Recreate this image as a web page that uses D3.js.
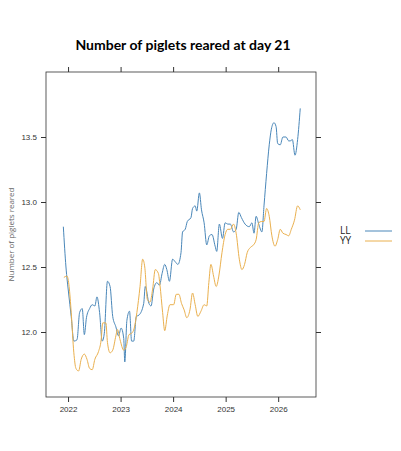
<!DOCTYPE html>
<html><head><meta charset="utf-8">
<script src="https://cdn.jsdelivr.net/npm/d3@7"></script>
<style>body{margin:0;background:#fff;font-family:"Open Sans",sans-serif}</style>
</head><body><div id="chart"></div>
<script>
const llYears = [2021.91,2021.96,2022.01,2022.06,2022.11,2022.17,2022.22,2022.27,2022.31,2022.35,2022.41,2022.46,2022.51,2022.55,2022.60,2022.65,2022.69,2022.75,2022.80,2022.85,2022.91,2022.96,2023.01,2023.06,2023.08,2023.12,2023.17,2023.21,2023.25,2023.30,2023.35,2023.44,2023.47,2023.54,2023.58,2023.63,2023.69,2023.74,2023.79,2023.84,2023.88,2023.93,2023.99,2024.04,2024.09,2024.15,2024.18,2024.23,2024.27,2024.34,2024.37,2024.42,2024.45,2024.50,2024.54,2024.59,2024.64,2024.69,2024.74,2024.80,2024.83,2024.88,2024.94,2024.99,2025.04,2025.09,2025.15,2025.20,2025.25,2025.30,2025.37,2025.45,2025.50,2025.54,2025.58,2025.63,2025.69,2025.73,2025.78,2025.83,2025.87,2025.92,2025.96,2025.99,2026.04,2026.09,2026.15,2026.20,2026.23,2026.27,2026.32,2026.37,2026.42];
const llValues = [12.81,12.5,12.3,12.12,11.93,11.94,12.15,12.18,11.98,12.11,12.18,12.21,12.2,12.27,12.15,11.93,11.99,12.39,12.35,12.12,12.04,11.97,12.03,11.95,11.77,12.09,12.16,11.93,11.93,12.12,12.13,12.22,12.35,12.22,12.2,12.33,12.38,12.36,12.45,12.52,12.48,12.39,12.56,12.54,12.52,12.61,12.77,12.79,12.85,12.88,12.95,12.97,12.93,13.07,12.94,12.84,12.67,12.74,12.75,12.66,12.62,12.83,12.72,12.84,12.83,12.83,12.77,12.79,12.92,12.88,12.83,12.81,12.84,12.76,12.89,12.83,12.77,12.97,13.22,13.44,13.56,13.61,13.58,13.45,13.44,13.5,13.5,13.47,13.47,13.48,13.36,13.48,13.72];
const yyYears = [2021.92,2021.98,2022.02,2022.06,2022.11,2022.15,2022.20,2022.25,2022.31,2022.36,2022.41,2022.46,2022.51,2022.58,2022.63,2022.66,2022.72,2022.75,2022.80,2022.85,2022.91,2022.94,2022.99,2023.06,2023.11,2023.16,2023.21,2023.26,2023.31,2023.37,2023.42,2023.46,2023.51,2023.56,2023.61,2023.66,2023.72,2023.75,2023.80,2023.84,2023.89,2023.94,2024.01,2024.06,2024.11,2024.16,2024.21,2024.26,2024.32,2024.37,2024.42,2024.47,2024.53,2024.59,2024.64,2024.68,2024.72,2024.77,2024.82,2024.87,2024.93,2024.99,2025.04,2025.09,2025.15,2025.20,2025.26,2025.31,2025.36,2025.41,2025.47,2025.53,2025.58,2025.63,2025.68,2025.73,2025.78,2025.83,2025.88,2025.94,2025.99,2026.04,2026.09,2026.15,2026.20,2026.25,2026.31,2026.37,2026.42];
const yyValues = [12.42,12.43,12.35,12.15,11.84,11.72,11.7,11.79,11.83,11.79,11.72,11.71,11.79,11.85,11.94,12.07,12.07,11.92,11.84,11.86,11.97,12.02,11.94,11.86,11.89,11.98,11.99,12.03,12.15,12.35,12.56,12.5,12.25,12.23,12.33,12.48,12.45,12.36,12.15,12.01,12.13,12.21,12.21,12.29,12.29,12.22,12.17,12.11,12.17,12.3,12.21,12.12,12.16,12.21,12.2,12.38,12.52,12.43,12.35,12.43,12.61,12.75,12.79,12.79,12.83,12.76,12.56,12.48,12.52,12.61,12.65,12.67,12.71,12.84,12.85,12.85,12.95,12.89,12.74,12.66,12.71,12.79,12.76,12.75,12.74,12.79,12.86,12.97,12.94];
const xTicks = [2022,2023,2024,2025,2026];
const yTicks = [12.0,12.5,13.0,13.5];
const series = [
  {name:"LL", years: llYears, values: llValues, color:"#4a87b9"},
  {name:"YY", years: yyYears, values: yyValues, color:"#eab04e"}
];

const W = 401, H = 451;
const mLeft = 46, mRight = 316, mTop = 72, mBottom = 397;
const svg = d3.select("#chart").append("svg").attr("width", W).attr("height", H);

const x = d3.scaleLinear().domain([2021.58, 2026.72]).range([mLeft, mRight]);
const y = d3.scaleLinear().domain([11.5, 14.0]).range([mBottom, mTop]);

svg.append("text").attr("x", 183).attr("y", 50).attr("text-anchor", "middle")
  .style("font-size", "14px").style("font-weight", "bold").style("font-family", "Lato, sans-serif")
  .text("Number of piglets reared at day 21");

svg.append("rect").attr("x", mLeft).attr("y", mTop).attr("width", mRight-mLeft).attr("height", mBottom-mTop)
  .attr("fill", "none").attr("stroke", "#333").attr("stroke-width", 0.8);

function styleAxis(g) {
  g.select(".domain").remove();
  g.selectAll("line").attr("stroke", "#333");
  g.selectAll("text").style("font-size", "8px").attr("fill", "#333");
}
svg.append("g").attr("transform", `translate(0,${mBottom})`)
  .call(d3.axisBottom(x).tickValues(xTicks).tickFormat(d3.format("d")).tickSize(5).tickPadding(4)).call(styleAxis);
svg.append("g").attr("transform", `translate(0,${mTop})`)
  .call(d3.axisTop(x).tickValues(xTicks).tickFormat("").tickSize(5)).call(styleAxis);
svg.append("g").attr("transform", `translate(${mLeft},0)`)
  .call(d3.axisLeft(y).tickValues(yTicks).tickFormat(d3.format(".1f")).tickSize(5).tickPadding(4)).call(styleAxis);
svg.append("g").attr("transform", `translate(${mRight},0)`)
  .call(d3.axisRight(y).tickValues(yTicks).tickFormat("").tickSize(5)).call(styleAxis);

svg.append("text").attr("transform", `translate(14,${(mTop+mBottom)/2}) rotate(-90)`)
  .attr("text-anchor", "middle").style("font-size", "8px").attr("fill", "#666")
  .text("Number of piglets reared");

const line = d3.line().curve(d3.curveMonotoneX);
series.forEach(s => {
  svg.append("path")
    .attr("d", line(s.years.map((yr, i) => [x(yr), y(s.values[i])])))
    .attr("fill", "none").attr("stroke", s.color).attr("stroke-width", 1);
});

const legend = svg.append("g").attr("transform", "translate(340,231)");
series.forEach((s, i) => {
  legend.append("text").attr("x", 0).attr("y", i*10 + 3).style("font-size", "10px").attr("fill", "#222").text(s.name);
  legend.append("line").attr("x1", 25).attr("x2", 52).attr("y1", i*10).attr("y2", i*10)
    .attr("stroke", s.color).attr("stroke-width", 1);
});
</script></body></html>
